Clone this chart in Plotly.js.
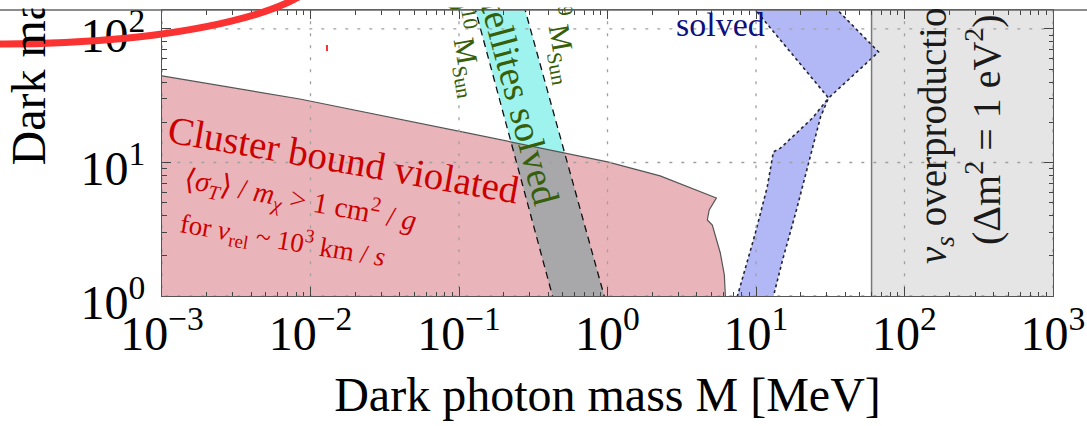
<!DOCTYPE html>
<html><head><meta charset="utf-8">
<script src="https://cdn.plot.ly/plotly-3.0.1.min.js"></script>
<style>html,body{margin:0;padding:0;background:#fff;} #chart{width:1087px;height:426px;}</style>
</head><body><div id="chart"></div>
<script>
// ---- tick labels ----
const xTickVals = [0.001, 0.01, 0.1, 1, 10, 100, 1000];
const xTickText = ['10<sup>−3</sup>','10<sup>−2</sup>','10<sup>−1</sup>','10<sup>0</sup>','10<sup>1</sup>','10<sup>2</sup>','10<sup>3</sup>'];
const yTickVals = [1, 10, 100];
const yTickText = ['10<sup>0</sup>','10<sup>1</sup>','10<sup>2</sup>'];

// ---- cluster bound (upper boundary of excluded region) ----
const clusterM    = [0.001, 0.00847, 0.1156, 1.0, 2.26, 5.41, 4.84, 4.70, 5.08, 5.75, 6.12, 6.22];
const clusterMass = [44.5,  29.9,    16.6,   10.1, 7.93, 5.42, 4.41, 3.71, 3.40, 2.10, 1.44, 1.0];

// ---- satellites band: edges (M at top / bottom of the band) ----
const bandMass   = [150, 0.9];
const bandLeftM  = [0.1266, 0.4372];
const bandRightM = [0.2735, 0.9754];

// ---- cusp/core solved region (blue) ----
const blueM    = [9.36, 33.0, 66.9, 30.8, 27.2, 22.6, 18.5, 15.1, 12.8, 7.3, 9.9, 11.9, 13.1, 14.6, 24.0, 30.8, 9.36];
const blueMass = [150,  150,  67.3, 30.4, 21.9, 9.9,  4.19, 1.86, 0.9,  0.9, 2.96, 6.55, 12.0, 12.8, 21.5, 30.4, 150];

// ---- nu_s overproduction bound ----
const nusM = [60, 60];

// ---- geometry helpers (log space clipping of the band by the cluster boundary) ----
const L = v => Math.log10(v);
function intersect(ex, ey, bx, by) {
  const p1 = [L(ex[0]), L(ey[0])], p2 = [L(ex[1]), L(ey[1])];
  for (let i = 0; i < bx.length - 1; i++) {
    const q1 = [L(bx[i]), L(by[i])], q2 = [L(bx[i+1]), L(by[i+1])];
    const r = [p2[0]-p1[0], p2[1]-p1[1]], s = [q2[0]-q1[0], q2[1]-q1[1]];
    const den = r[0]*s[1] - r[1]*s[0];
    if (Math.abs(den) < 1e-12) continue;
    const t = ((q1[0]-p1[0])*s[1] - (q1[1]-p1[1])*s[0]) / den;
    const u = ((q1[0]-p1[0])*r[1] - (q1[1]-p1[1])*r[0]) / den;
    if (t >= 0 && t <= 1 && u >= 0 && u <= 1) {
      return {i: i, x: Math.pow(10, p1[0] + t*r[0]), y: Math.pow(10, p1[1] + t*r[1])};
    }
  }
  return null;
}
const li = intersect(bandLeftM, bandMass, clusterM, clusterMass);
const ri = intersect(bandRightM, bandMass, clusterM, clusterMass);
const midX = [], midY = [];
for (let k = li.i + 1; k <= ri.i; k++) { midX.push(clusterM[k]); midY.push(clusterMass[k]); }

const cyanX = [bandLeftM[0], bandRightM[0], ri.x].concat(midX.slice().reverse(), [li.x]);
const cyanY = [bandMass[0], bandMass[0], ri.y].concat(midY.slice().reverse(), [li.y]);
const grayX = [li.x].concat(midX, [ri.x, bandRightM[1], bandLeftM[1]]);
const grayY = [li.y].concat(midY, [ri.y, bandMass[1], bandMass[1]]);

const base = {type: 'scatter', mode: 'lines', hoverinfo: 'skip', showlegend: false};

const pinkX = [clusterM[0]*0.8].concat(clusterM, [clusterM[clusterM.length-1], clusterM[0]*0.8]);
const pinkY = [clusterMass[0]].concat(clusterMass, [0.8, 0.8]);

// grid lines drawn as traces so they sit over the shaded regions
const gx = [], gy = [];
xTickVals.forEach(v => { gx.push(v, v, null); gy.push(0.5, 300, null); });
const hx = [], hy = [];
yTickVals.forEach(v => { hx.push(0.0005, 5000, null); hy.push(v, v, null); });

const traces = [
  Object.assign({}, base, {x: [nusM[0], nusM[0], 5000, 5000], y: [0.5, 300, 300, 0.5], fill: 'toself', fillcolor: 'rgb(229,229,229)', line: {width: 0}}),
  Object.assign({}, base, {x: pinkX, y: pinkY, fill: 'toself', fillcolor: 'rgb(233,181,186)', line: {width: 0}}),
  Object.assign({}, base, {x: cyanX, y: cyanY, fill: 'toself', fillcolor: 'rgb(158,243,238)', line: {width: 0}}),
  Object.assign({}, base, {x: grayX, y: grayY, fill: 'toself', fillcolor: 'rgb(168,168,170)', line: {width: 0}}),
  Object.assign({}, base, {x: clusterM, y: clusterMass, line: {color: 'rgb(85,85,85)', width: 1.2}}),
  Object.assign({}, base, {x: bandLeftM, y: bandMass, line: {color: '#111', width: 1.3, dash: '7px,5px'}}),
  Object.assign({}, base, {x: bandRightM, y: bandMass, line: {color: '#111', width: 1.3, dash: '7px,5px'}}),
  Object.assign({}, base, {x: blueM, y: blueMass, fill: 'toself', fillcolor: 'rgb(178,184,246)', line: {color: 'rgb(35,35,50)', width: 1.6, dash: '3px,3px'}}),
  Object.assign({}, base, {x: nusM, y: [0.5, 300], line: {color: 'rgb(120,120,120)', width: 1.5}}),
  Object.assign({}, base, {x: gx, y: gy, connectgaps: false, line: {color: 'rgb(160,160,160)', width: 1.3, dash: '3px,9px'}}),
  Object.assign({}, base, {x: hx, y: hy, connectgaps: false, line: {color: 'rgb(160,160,160)', width: 1.3, dash: '3px,9px'}})
];

// minor tick positions
const xMinor = [], yMinor = [];
for (let k = -3; k < 3; k++) for (let m = 2; m <= 9; m++) xMinor.push(m * Math.pow(10, k));
for (let k = 0; k < 3; k++) for (let m = 2; m <= 9; m++) yMinor.push(m * Math.pow(10, k));

const FONT = 'Liberation Serif, Times New Roman, serif';
function pp(px, py) { return {x: (px - 162) / 891, y: (296 - py) / 286, xref: 'paper', yref: 'paper'}; }
function ann(px, py, o) { return Object.assign(pp(px, py), {showarrow: false, xanchor: 'center', yanchor: 'middle'}, o); }

const red = 'rgb(205,0,0)', green = 'rgb(55,95,10)';
const annotations = [
  ann(31, 168, {text: 'Dark matter mass m<sub>χ</sub> [GeV]', textangle: -90, xanchor: 'center', yanchor: 'bottom', font: {family: FONT, size: 48, color: '#000'}}),
  ann(344, 159, {text: 'Cluster bound violated', textangle: 10, font: {family: FONT, size: 39, color: red}}),
  ann(300, 199, {text: '⟨<i>σ</i><sub><i>T</i></sub>⟩ / <i>m</i><sub><i>χ</i></sub> > 1 cm<sup>2</sup> / <i>g</i>', textangle: 10.5, font: {family: FONT, size: 29, color: red}}),
  ann(283, 240, {text: 'for <i>v</i><sub>rel</sub> ~ 10<sup>3</sup> km / <i>s</i>', textangle: 9.5, font: {family: FONT, size: 27, color: red}}),
  ann(570, 212, {text: 'satellites solved', textangle: 75, xanchor: 'right', yanchor: 'bottom', font: {family: FONT, size: 38, color: green}}),
  ann(497, 103, {text: '10<sup>10</sup> M<sub>Sun</sub>', textangle: 80, xanchor: 'right', yanchor: 'bottom', font: {family: FONT, size: 30, color: green}}),
  ann(592, 90, {text: '10<sup>9</sup> M<sub>Sun</sub>', textangle: 80, xanchor: 'right', yanchor: 'bottom', font: {family: FONT, size: 30, color: green}}),
  ann(720, 24, {text: 'solved', font: {family: FONT, size: 34, color: 'rgb(15,15,125)'}}),
  ann(935, 266, {text: '<i>ν</i><sub><i>s</i></sub> overproduction', textangle: -90, xanchor: 'center', yanchor: 'bottom', font: {family: FONT, size: 39, color: '#1a1a1a'}}),
  ann(983, 130, {text: '(Δm<sup>2</sup> = 1 eV<sup>2</sup>)', textangle: -90, font: {family: FONT, size: 40, color: '#1a1a1a'}}),
  // white strip above the frame (the picture is cropped there)
  ann(0, 8.5, {text: ' ', xanchor: 'left', yanchor: 'bottom', width: 160, height: 24, bgcolor: 'white', borderpad: 0}),
  ann(400, 8.5, {text: ' ', xanchor: 'left', yanchor: 'bottom', width: 700, height: 24, bgcolor: 'white', borderpad: 0})
];

const shapes = [
  {type: 'line', xref: 'paper', yref: 'paper', x0: -0.25, x1: 1.1, y0: 1, y1: 1, line: {color: '#666', width: 1.5}, layer: 'above'},
  {type: 'circle', xref: 'paper', yref: 'paper', x0: -0.5354, x1: 0.1829, y0: 0.8811, y1: 1.4266, line: {color: 'rgb(250,50,50)', width: 7}, layer: 'above'},
  {type: 'line', xref: 'paper', yref: 'paper', x0: 0.1852, x1: 0.1852, y0: 0.8776, y1: 0.8566, line: {color: 'rgb(250,50,50)', width: 2}, layer: 'above'}
];

const axisCommon = {
  type: 'log', tickmode: 'array', ticks: 'inside', ticklen: 9, tickwidth: 1, tickcolor: '#444',
  showline: true, linecolor: '#555', linewidth: 1.2, mirror: 'allticks', showgrid: false, zeroline: false,
  automargin: false, ticklabeloverflow: 'allow', tickfont: {family: FONT, size: 48, color: '#000'}
};

const layout = {
  width: 1087, height: 426,
  margin: {l: 162, r: 34, t: 10, b: 130},
  paper_bgcolor: 'white', plot_bgcolor: 'white',
  font: {family: FONT, color: '#000'},
  showlegend: false,
  xaxis: Object.assign({}, axisCommon, {
    range: [-3, 3], tickvals: xTickVals, ticktext: xTickText, ticklabelstandoff: -5,
    minor: {tickmode: 'array', tickvals: xMinor, ticks: 'inside', ticklen: 4.5, tickcolor: '#444', showgrid: false},
    title: {text: 'Dark photon mass M [MeV]', font: {family: FONT, size: 48, color: '#000'}, standoff: 18}
  }),
  yaxis: Object.assign({}, axisCommon, {
    range: [0, 2.142], tickvals: yTickVals, ticktext: yTickText, ticklabelstandoff: 6, ticklabelshift: 6,
    minor: {tickmode: 'array', tickvals: yMinor, ticks: 'inside', ticklen: 4.5, tickcolor: '#444', showgrid: false}
  }),
  annotations: annotations,
  shapes: shapes
};

Plotly.newPlot('chart', traces, layout, {displayModeBar: false, staticPlot: true});
</script>
</body></html>
